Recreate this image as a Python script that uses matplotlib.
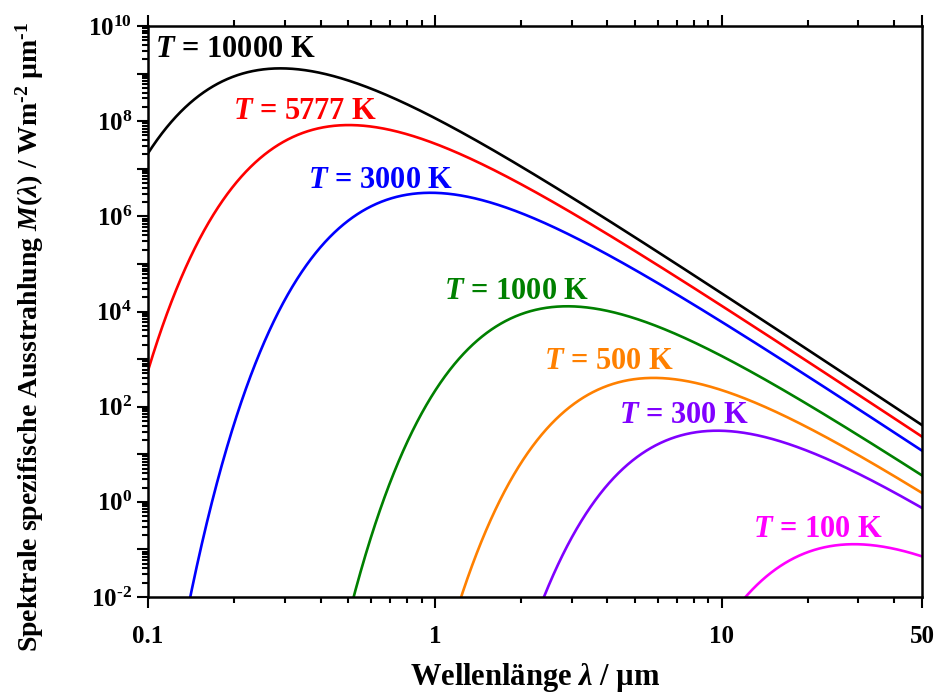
import numpy as np
import matplotlib
matplotlib.use("Agg")
import matplotlib.pyplot as plt
from matplotlib.ticker import LogLocator, FixedLocator, NullFormatter

plt.rcParams['font.family'] = ['Liberation Serif', 'DejaVu Serif']
plt.rcParams['font.weight'] = 'bold'
plt.rcParams['mathtext.fontset'] = 'custom'
plt.rcParams['mathtext.rm'] = 'Liberation Serif:bold'
plt.rcParams['mathtext.bf'] = 'Liberation Serif:bold'
plt.rcParams['mathtext.it'] = 'Liberation Serif:bold:italic'

# temperatures of the black bodies (K) and their colours
temperatures = [10000, 5777, 3000, 1000, 500, 300, 100]
colors = ['#000000', '#ff0000', '#0000ff', '#008000', '#ff8000', '#8000ff', '#ff00ff']
# label anchor (wavelength in um, exitance)
label_x = [0.1058, 0.198, 0.362, 1.075, 2.40, 4.40, 12.9]
label_y = [10**9.50, 10**8.21, 10**6.76, 10**4.41, 10**2.94, 10**1.81, 10**-0.59]

x_ticks = [0.1, 1, 10, 50]
x_ticklabels = ['0.1', '1', '10', '50']
y_exponents = list(range(-2, 11))

# Planck's law, spectral exitance in W m^-2 um^-1
h = 6.62607015e-34
c = 2.99792458e8
kB = 1.380649e-23


def exitance(lam_um, T):
    lam = lam_um * 1e-6
    with np.errstate(over='ignore'):
        m = 2 * np.pi * h * c**2 / lam**5 / np.expm1(h * c / (lam * kB * T))
    return m * 1e-6


def sup(e):
    # superscript with a short hyphen like the original
    s = str(e).replace('-', '\u2010')
    return r'$\mathregular{10^{%s}}$' % s


lam = np.logspace(np.log10(0.1), np.log10(50), 2000)

fig = plt.figure(figsize=(9.38, 6.93), dpi=100)
ax = fig.add_axes([148 / 938, 96 / 693, 774 / 938, 571 / 693])

for T, col in zip(temperatures, colors):
    ax.plot(lam, exitance(lam, T), color=col, linewidth=1.9)

for T, col, lx, ly in zip(temperatures, colors, label_x, label_y):
    ax.text(lx, ly, r'$T$ = %d K' % T, color=col, fontsize=22, fontweight='bold',
            ha='left', va='center')

ax.set_xscale('log')
ax.set_yscale('log')
ax.set_xlim(0.1, 50)
ax.set_ylim(1e-2, 1e10)

ax.xaxis.set_major_locator(FixedLocator(x_ticks))
ax.set_xticklabels(x_ticklabels)
ax.xaxis.set_minor_locator(LogLocator(base=10, subs=np.arange(2, 10), numticks=20))
ax.xaxis.set_minor_formatter(NullFormatter())
ax.yaxis.set_major_locator(FixedLocator([10.0**e for e in y_exponents]))
ax.set_yticklabels([sup(e) if e % 2 == 0 else '' for e in y_exponents])
ax.yaxis.set_minor_locator(LogLocator(base=10, subs=np.arange(2, 10), numticks=30))
ax.yaxis.set_minor_formatter(NullFormatter())

ax.tick_params(which='both', direction='out', width=1.5, labelsize=18,
               top=True, right=False, left=True, bottom=True)
ax.tick_params(which='major', length=8)
ax.tick_params(which='minor', length=4)
ax.tick_params(axis='x', which='major', pad=12)
for s in ax.spines.values():
    s.set_linewidth(1.8)

ax.set_xlabel('Wellenlänge $\\lambda$ / µm', fontsize=22, fontweight='bold')
ax.set_ylabel('Spektrale spezifische Ausstrahlung $M$($\\lambda$) / Wm$^{\u20102}$ µm$^{\u20101}$',
              fontsize=20, fontweight='bold')
ax.xaxis.set_label_coords(0.5, (597 - 678) / 571)
ax.xaxis.label.set_va('center')
ax.yaxis.set_label_coords((30 - 148) / 774, (597 - 337) / 571)
ax.yaxis.label.set_va('center')

fig.savefig('out.png', dpi=100)
